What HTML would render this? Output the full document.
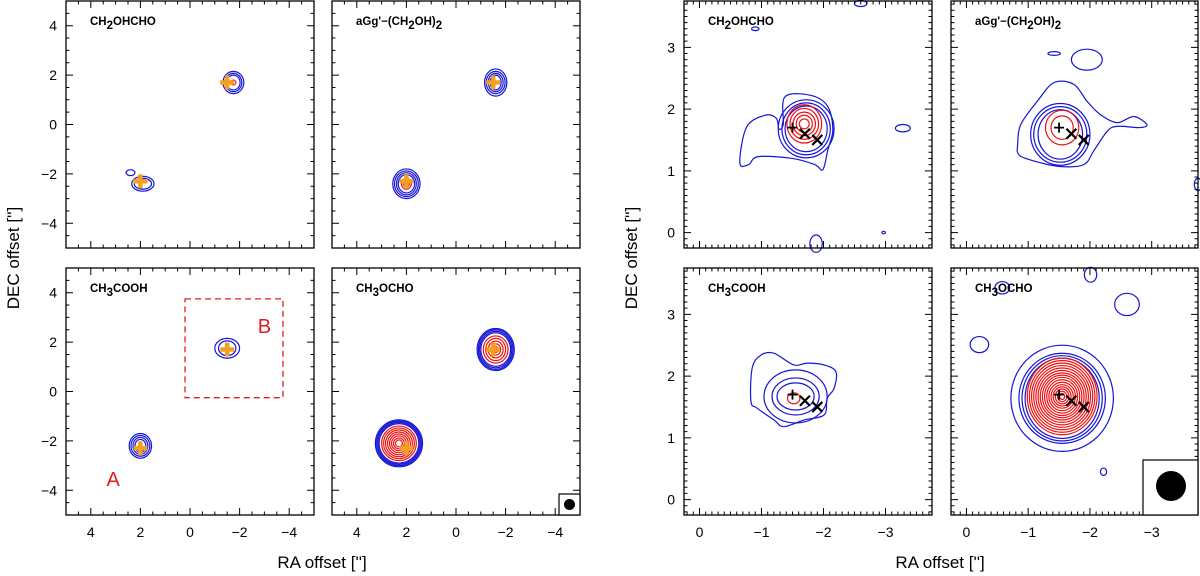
<!DOCTYPE html>
<html><head><meta charset="utf-8"><style>
html,body{margin:0;padding:0;background:#fff;}
svg{display:block;font-family:"Liberation Sans",sans-serif;}
</style></head><body>
<svg id="fig" width="1200" height="576" viewBox="0 0 1200 576" xmlns="http://www.w3.org/2000/svg">
<text x="0" y="0" transform="translate(19,258) rotate(-90)" text-anchor="middle" font-size="17">DEC offset ['']</text>
<text x="0" y="0" transform="translate(637,258) rotate(-90)" text-anchor="middle" font-size="17">DEC offset ['']</text>
<text x="322" y="568" text-anchor="middle" font-size="17">RA offset ['']</text>
<text x="940" y="568" text-anchor="middle" font-size="17">RA offset ['']</text>
</svg>
<script>
// ----- data (arcsec) -----
const leftXTicks = [4, 2, 0, -2, -4];
const leftYTicks = [4, 2, 0, -2, -4];
const rightXTicks = [0, -1, -2, -3];
const rightYTicks = [0, 1, 2, 3];
const starB = [-1.5, 1.7];
const starA = [2.0, -2.3];
const crossX = [-1.7, -1.9];
const crossY = [1.6, 1.5];

// left panels
const L1src = [[-1.75, 1.7], [1.9, -2.4], [2.4, -1.95]];
const L1blueRx = [[0.42, 0.34, 0.27], [0.45, 0.35], [0.18]];
const L1blueRy = [[0.45, 0.37, 0.3], [0.3, 0.22], [0.12]];
const L1redRx = [[0.1], [], []];
const L1redRy = [[0.1], [], []];
const L2src = [[-1.6, 1.7], [2.0, -2.4]];
const L2blueRx = [[0.45, 0.38, 0.3, 0.22], [0.55, 0.48, 0.4, 0.33]];
const L2blueRy = [[0.55, 0.45, 0.37, 0.3], [0.6, 0.52, 0.45, 0.37]];
const L2redRx = [[], [0.2, 0.12]];
const L2redRy = [[], [0.22, 0.13]];
const L3src = [[-1.5, 1.75], [2.0, -2.2]];
const L3blueRx = [[0.5, 0.35], [0.45, 0.38, 0.3, 0.22]];
const L3blueRy = [[0.4, 0.3], [0.5, 0.42, 0.34, 0.26]];
const L3redRx = [[], []];
const L3redRy = [[], []];
const L4src = [[-1.6, 1.7], [2.3, -2.1]];
const L4blueRx = [[0.75, 0.7, 0.65, 0.6], [0.95, 0.9, 0.85, 0.8]];
const L4blueRy = [[0.85, 0.8, 0.74, 0.68], [0.95, 0.9, 0.85, 0.8]];
const L4redRx = [[0.5, 0.4, 0.3, 0.2, 0.1], [0.7, 0.62, 0.54, 0.46, 0.38, 0.3, 0.22, 0.14]];
const L4redRy = [[0.55, 0.45, 0.34, 0.23, 0.12], [0.7, 0.62, 0.54, 0.46, 0.38, 0.3, 0.22, 0.14]];

// right panel 1: CH2OHCHO
const R1src = [[-1.72, 1.68], [-1.69, 1.76], [-3.28, 1.69], [-0.9, 3.3], [-2.6, 3.71], [-2.97, 0.0], [-1.88, -0.18]];
const R1blueRx = [[0.34, 0.39, 0.45], [], [0.12], [0.06], [0.1], [0.03], [0.1]];
const R1blueRy = [[0.37, 0.42, 0.47], [], [0.06], [0.03], [0.05], [0.02], [0.14]];
const R1redRx = [[], [0.28, 0.23, 0.18, 0.13, 0.08], [], [], [], [], []];
const R1redRy = [[], [0.31, 0.25, 0.19, 0.14, 0.08], [], [], [], [], []];
const R1outX = [-0.65, -0.76, -1.06, -1.24, -1.28, -1.35, -1.38, -1.8, -2.07, -2.15, -2.07, -1.99, -1.86, -1.5, -0.95, -0.79];
const R1outY = [1.13, 1.71, 1.9, 1.85, 1.68, 1.75, 2.2, 2.22, 2.04, 1.66, 1.34, 1.02, 1.1, 1.2, 1.23, 1.1];
// right panel 2: aGg'
const R2src = [[-1.52, 1.59], [-1.55, 1.7], [-1.95, 2.8], [-1.42, 2.9], [-3.75, 0.78]];
const R2blueRx = [[0.36, 0.43, 0.48], [], [0.25], [0.1], [0.06]];
const R2blueRy = [[0.4, 0.45, 0.5], [], [0.17], [0.03], [0.1]];
const R2redRx = [[], [0.27, 0.18], [], [], []];
const R2redRy = [[], [0.28, 0.19], [], [], []];
const R2outX = [-0.83, -0.88, -1.15, -1.42, -1.74, -1.95, -2.17, -2.44, -2.71, -2.92, -2.81, -2.44, -2.28, -2.06, -1.9, -1.52, -1.09, -0.85];
const R2outY = [1.43, 1.75, 2.13, 2.43, 2.4, 2.13, 1.91, 1.78, 1.88, 1.75, 1.7, 1.72, 1.64, 1.32, 1.1, 1.07, 1.16, 1.26];
// right panel 3: CH3COOH
const R3src = [[-1.55, 1.67], [-1.52, 1.64]];
const R3blueRx = [[0.3, 0.38, 0.51], []];
const R3blueRy = [[0.22, 0.3, 0.43], []];
const R3redRx = [[], [0.1]];
const R3redRy = [[], [0.09]];
const R3outX = [-0.83, -0.85, -0.99, -1.2, -1.52, -1.74, -2.01, -2.2, -2.17, -2.06, -2.01, -1.69, -1.36, -1.2, -0.93];
const R3outY = [1.59, 2.13, 2.34, 2.37, 2.18, 2.21, 2.18, 2.07, 1.8, 1.64, 1.37, 1.29, 1.18, 1.29, 1.48];
// right panel 4: CH3OCHO
const R4src = [[-1.55, 1.64], [-1.55, 1.67], [-0.21, 2.51], [-0.58, 3.43], [-2.01, 3.64], [-2.6, 3.16], [-2.22, 0.45]];
const R4blueRx = [[0.83, 0.7, 0.65, 0.6], [], [0.15], [0.12], [0.1], [0.2], [0.05]];
const R4blueRy = [[0.86, 0.73, 0.69, 0.65], [], [0.13], [0.1], [0.12], [0.18], [0.06]];
const R4redRx = [[], [0.565, 0.53, 0.495, 0.46, 0.425, 0.39, 0.355, 0.32, 0.285, 0.25, 0.215, 0.18, 0.145, 0.11, 0.075, 0.04], [], [], [], [], []];
const R4redRy = [[], [0.62, 0.58, 0.54, 0.5, 0.46, 0.42, 0.38, 0.345, 0.31, 0.27, 0.23, 0.19, 0.155, 0.12, 0.085, 0.05], [], [], [], [], []];

const NS = 'http://www.w3.org/2000/svg';
const svg = document.getElementById('fig');
function mk(tag, attrs, parent) {
  const e = document.createElementNS(NS, tag);
  for (const k in attrs) e.setAttribute(k, attrs[k]);
  (parent || svg).appendChild(e);
  return e;
}
function smoothClosed(pts) {
  const n = pts.length;
  let d = `M${pts[0][0]},${pts[0][1]}`;
  for (let i = 0; i < n; i++) {
    const p0 = pts[(i - 1 + n) % n], p1 = pts[i], p2 = pts[(i + 1) % n], p3 = pts[(i + 2) % n];
    const c1 = [p1[0] + (p2[0] - p0[0]) / 6, p1[1] + (p2[1] - p0[1]) / 6];
    const c2 = [p2[0] - (p3[0] - p1[0]) / 6, p2[1] - (p3[1] - p1[1]) / 6];
    d += `C${c1[0]},${c1[1]} ${c2[0]},${c2[1]} ${p2[0]},${p2[1]}`;
  }
  return d + 'Z';
}

function panel(name, x0, y0, w, h, xmin, xmax, ymin, ymax, opts) {
  const g = mk('g', {});
  
  
  const sx = v => x0 + (v - xmin) / (xmax - xmin) * w;
  const sy = v => y0 + (ymax - v) / (ymax - ymin) * h;
  const ux = w / Math.abs(xmax - xmin), uy = h / Math.abs(ymax - ymin);
  const layers = [['blue', opts.bRx, opts.bRy, '#1414d8'], ['red', opts.rRx, opts.rRy, '#f01010']];
  for (const [cname, RX, RY, col] of layers) {
    opts.src.forEach((s, i) => {
      RX[i].forEach((r, j) => {
        const e = mk('ellipse', {cx: sx(s[0]), cy: sy(s[1]), rx: r * ux, ry: RY[i][j] * uy, fill: 'none', stroke: col, 'stroke-width': 1.2}, g);
        
        
      });
    });
  }
  if (opts.outX) {
    const pts = opts.outX.map((v, i) => [sx(v), sy(opts.outY[i])]);
    const o = mk('path', {d: smoothClosed(pts), fill: 'none', stroke: '#1414d8', 'stroke-width': 1.2}, g);
    
    
  }
  const f = mk('rect', {x: x0, y: y0, width: w, height: h, fill: 'none', stroke: '#000', 'stroke-width': 1.3}, g);
  
  
  let d = '';
  const mstep = opts.minor, M = opts.majorLen, m = opts.minorLen;
  for (let v = Math.ceil(Math.min(xmin, xmax) / mstep) * mstep; v <= Math.max(xmin, xmax) + 1e-9; v += mstep) {
    const isMaj = Math.abs(v / opts.major - Math.round(v / opts.major)) < 1e-6;
    const L = isMaj ? M : m, X = sx(v);
    d += `M${X},${y0 + h}v${-L}M${X},${y0}v${L}`;
  }
  for (let v = Math.ceil(ymin / mstep) * mstep; v <= ymax + 1e-9; v += mstep) {
    const isMaj = Math.abs(v / opts.major - Math.round(v / opts.major)) < 1e-6;
    const L = isMaj ? M : m, Y = sy(v);
    d += `M${x0},${Y}h${L}M${x0 + w},${Y}h${-L}`;
  }
  const t = mk('path', {d: d, stroke: '#000', 'stroke-width': 1, fill: 'none'}, g);
  
  
  if (opts.xlabels) opts.xTicks.forEach(v => {
    const tx = mk('text', {x: sx(v), y: y0 + h + 22, 'text-anchor': 'middle', 'font-size': 14}, g);
    tx.textContent = v < 0 ? '\u2212' + (-v) : String(v);
    
    
  });
  if (opts.ylabels) opts.yTicks.forEach(v => {
    const tx = mk('text', {x: x0 - 9, y: sy(v) + 5, 'text-anchor': 'end', 'font-size': 14}, g);
    tx.textContent = v < 0 ? '\u2212' + (-v) : String(v);
    
    
  });
  const tt = mk('text', {x: x0 + 24, y: y0 + 24, 'font-size': 11.5, 'font-weight': 'bold'}, g);
  tt.innerHTML = opts.title;
  
  
  return {g, sx, sy};
}

const sub = n => `<tspan dy="4" font-size="11.5">${n}</tspan><tspan dy="-4">`;
const T1 = `CH${sub(2)}OHCHO</tspan>`;
const T2 = `aGg'\u2212(CH${sub(2)}OH)</tspan><tspan dy="4">2</tspan>`;
const T3 = `CH${sub(3)}COOH</tspan>`;
const T4 = `CH${sub(3)}OCHO</tspan>`;

const LO = {major: 2, minor: 0.5, majorLen: 7, minorLen: 3.5, xTicks: leftXTicks, yTicks: leftYTicks};
const RO = {major: 1, minor: 0.1, majorLen: 7, minorLen: 3.5, xTicks: rightXTicks, yTicks: rightYTicks};
const LP = [], RP = [];
LP.push(panel('left-panel-ch2ohcho', 66, 1, 248, 247, 5, -5, -5, 5, Object.assign({}, LO, {title: T1, src: L1src, bRx: L1blueRx, bRy: L1blueRy, rRx: L1redRx, rRy: L1redRy, ylabels: true})));
LP.push(panel('left-panel-agg-ethylene-glycol', 332, 1, 248, 247, 5, -5, -5, 5, Object.assign({}, LO, {title: T2, src: L2src, bRx: L2blueRx, bRy: L2blueRy, rRx: L2redRx, rRy: L2redRy})));
LP.push(panel('left-panel-ch3cooh', 66, 268, 248, 247, 5, -5, -5, 5, Object.assign({}, LO, {title: T3, src: L3src, bRx: L3blueRx, bRy: L3blueRy, rRx: L3redRx, rRy: L3redRy, ylabels: true, xlabels: true})));
LP.push(panel('left-panel-ch3ocho', 332, 268, 248, 247, 5, -5, -5, 5, Object.assign({}, LO, {title: T4, src: L4src, bRx: L4blueRx, bRy: L4blueRy, rRx: L4redRx, rRy: L4redRy, xlabels: true})));
RP.push(panel('right-panel-ch2ohcho', 684, 1, 248, 247, 0.25, -3.75, -0.25, 3.75, Object.assign({}, RO, {title: T1, src: R1src, bRx: R1blueRx, bRy: R1blueRy, rRx: R1redRx, rRy: R1redRy, outX: R1outX, outY: R1outY, ylabels: true})));
RP.push(panel('right-panel-agg-ethylene-glycol', 951, 1, 247, 247, 0.25, -3.75, -0.25, 3.75, Object.assign({}, RO, {title: T2, src: R2src, bRx: R2blueRx, bRy: R2blueRy, rRx: R2redRx, rRy: R2redRy, outX: R2outX, outY: R2outY})));
RP.push(panel('right-panel-ch3cooh', 684, 268, 248, 247, 0.25, -3.75, -0.25, 3.75, Object.assign({}, RO, {title: T3, src: R3src, bRx: R3blueRx, bRy: R3blueRy, rRx: R3redRx, rRy: R3redRy, outX: R3outX, outY: R3outY, ylabels: true, xlabels: true})));
RP.push(panel('right-panel-ch3ocho', 951, 268, 247, 247, 0.25, -3.75, -0.25, 3.75, Object.assign({}, RO, {title: T4, src: R4src, bRx: R4blueRx, bRy: R4blueRy, rRx: R4redRx, rRy: R4redRy, xlabels: true})));

LP.forEach(p => {
  [starB, starA].forEach(s => {
    const X = p.sx(s[0]), Y = p.sy(s[1]);
    const c = mk('path', {d: `M${X - 7},${Y}h14M${X},${Y - 7}v14`, stroke: '#f5a020', 'stroke-width': 4.5}, p.g);
    
    
  });
});
RP.forEach(p => {
  const X = p.sx(starB[0]), Y = p.sy(starB[1]);
  const pl = mk('path', {d: `M${X - 5},${Y}h10M${X},${Y - 5}v10`, stroke: '#000', 'stroke-width': 1.8}, p.g);
  
  
  crossX.forEach((cx, i) => {
    const a = p.sx(cx), b = p.sy(crossY[i]);
    const x = mk('path', {d: `M${a - 5},${b - 5}l10,10M${a - 5},${b + 5}l10,-10`, stroke: '#000', 'stroke-width': 2.2}, p.g);
    
    
  });
});

{
  const p = LP[2];
  const r = mk('rect', {x: p.sx(0.2), y: p.sy(3.75), width: p.sx(-3.75) - p.sx(0.2), height: p.sy(-0.25) - p.sy(3.75), fill: 'none', stroke: '#e02020', 'stroke-width': 1.3, 'stroke-dasharray': '6,4'}, p.g);
  
  
  const a = mk('text', {x: p.sx(3.1), y: p.sy(-3.5) + 8, 'text-anchor': 'middle', 'font-size': 20, fill: '#e02020'}, p.g);
  a.textContent = 'A';
  
  
  const b = mk('text', {x: p.sx(-3.0), y: p.sy(2.7) + 8, 'text-anchor': 'middle', 'font-size': 20, fill: '#e02020'}, p.g);
  b.textContent = 'B';
  
  
}
{
  const bl = mk('rect', {x: 559, y: 494, width: 21, height: 21, fill: '#fff', stroke: '#000', 'stroke-width': 1.2});
  
  
  const cl = mk('circle', {cx: 569.5, cy: 504.5, r: 5.5, fill: '#000'});
  
  
  const br = mk('rect', {x: 1143, y: 460, width: 55, height: 55, fill: '#fff', stroke: '#000', 'stroke-width': 1.2});
  
  
  const cr = mk('circle', {cx: 1171, cy: 486, r: 15, fill: '#000'});
  
  
}
</script>
</body></html>
